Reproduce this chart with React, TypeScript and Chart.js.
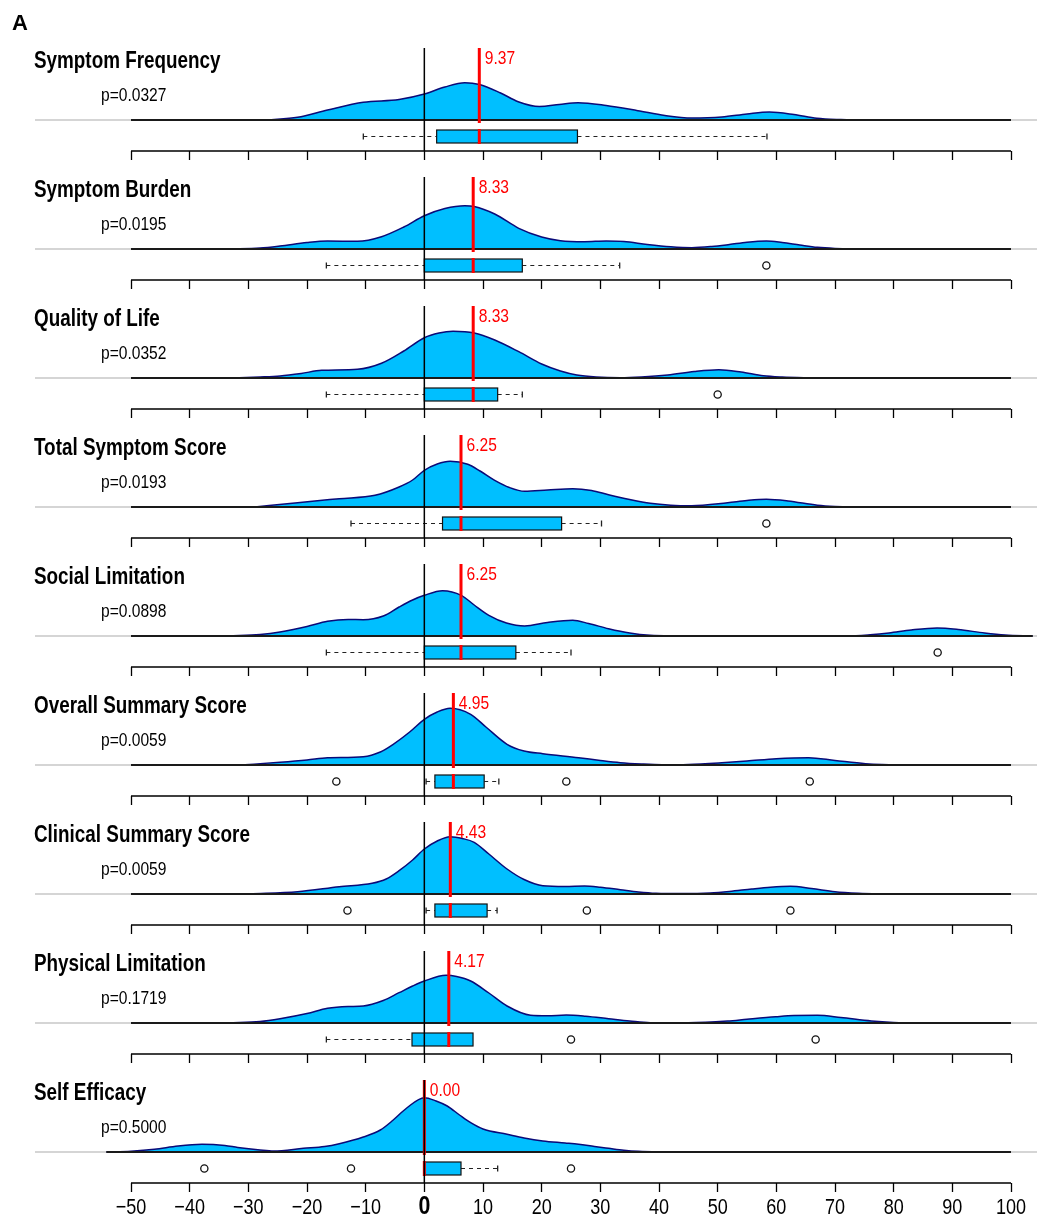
import React, { useEffect, useRef } from 'react';
import { Chart, registerables } from 'chart.js';

Chart.register(...registerables);

// ---------------- DATA ----------------
const panelTitles = [
  'Symptom Frequency',
  'Symptom Burden',
  'Quality of Life',
  'Total Symptom Score',
  'Social Limitation',
  'Overall Summary Score',
  'Clinical Summary Score',
  'Physical Limitation',
  'Self Efficacy',
];
const pValues = ['p=0.0327', 'p=0.0195', 'p=0.0352', 'p=0.0193', 'p=0.0898', 'p=0.0059', 'p=0.0059', 'p=0.1719', 'p=0.5000'];
const medians = [9.37, 8.33, 8.33, 6.25, 6.25, 4.95, 4.43, 4.17, 0.0];
const q1Values = [2.1, 0, 0, 3.1, 0, 1.8, 1.8, -2.1, 0];
const q3Values = [26.1, 16.7, 12.5, 23.4, 15.6, 10.2, 10.7, 8.3, 6.25];
const whiskerLow = [-10.4, -16.7, -16.7, -12.5, -16.7, 0.3, 0.3, -16.7, 0];
const whiskerHigh = [58.4, 33.3, 16.7, 30.2, 25.0, 12.7, 12.4, 8.3, 12.5];
const outlierValues = [[], [58.3], [50.0], [58.3], [87.5], [-15.0, 24.2, 65.7], [-13.1, 27.7, 62.4], [25.0, 66.7], [-37.5, -12.5, 25.0]];
const tickValues = [-50, -40, -30, -20, -10, 0, 10, 20, 30, 40, 50, 60, 70, 80, 90, 100];

// density curves (x = change score, d = relative density height)
const densX_SymptomFrequency = [-26.8, -21.6, -16.5, -10.4, -4.3, 0, 3.5, 6.9, 9.4, 13, 16, 19.6, 23, 26.2, 31, 36.4, 41, 45.6, 50.7, 55, 58.8, 63, 66.9, 71, 74.6];
const densD_SymptomFrequency = [0, 2.7, 10, 17.7, 20.5, 26, 33, 37.3, 35.5, 27, 18.3, 13.5, 15.5, 17.3, 14.5, 9.3, 4.5, 2, 3, 6, 8, 5.5, 1.7, 0.4, 0];
const densX_SymptomBurden = [-33.3, -28, -24.6, -20, -16.5, -11.4, -7.3, -3.5, 0, 3.5, 6.9, 8.5, 12, 16.1, 20, 23.2, 27.3, 31, 34, 38, 42, 45.6, 49, 52, 55, 58.3, 61, 64, 67, 70, 74.6];
const densD_SymptomBurden = [0, 1, 3, 6.5, 8, 7.7, 12.3, 22, 33.3, 40.5, 43.3, 42.5, 35, 20.7, 12, 8.3, 7.3, 8, 7.5, 4.5, 2.2, 1.3, 2.5, 4.5, 6.8, 8, 6.5, 4, 1.7, 0.6, 0];
const densX_QualityOfLife = [-33.3, -28, -24.6, -21, -17.5, -11.4, -7.3, -3.5, 0, 2.5, 4.9, 8.5, 12, 16.1, 20, 23.2, 26, 29.3, 33.4, 37, 41.5, 46, 50.2, 54, 57.8, 61, 66.5];
const densD_QualityOfLife = [0, 1, 2, 4.5, 7.7, 8.7, 14.7, 27, 40.3, 45, 46.7, 45, 38, 26.3, 14, 7, 3, 1, 0.3, 1, 3, 6.5, 8.3, 6, 2.3, 1, 0];
const densX_TotalSymptomScore = [-28.9, -21.6, -14.5, -8.4, -4.3, -2, 0, 2.2, 4.4, 7.4, 9.5, 12, 14.5, 17.1, 21, 25.3, 28.5, 31.4, 35, 38.5, 42, 45.6, 51.7, 55, 58.3, 62, 67, 70, 74.6];
const densD_TotalSymptomScore = [0, 4.3, 8.3, 11.7, 20, 27, 36.7, 43, 45.7, 42.7, 36, 26.7, 19.5, 15.7, 17, 18.3, 16.5, 12.3, 7.5, 3.7, 1.8, 1.3, 4.3, 6.5, 7.7, 6, 1.7, 0.5, 0];
const densX_SocialLimitation = [-33.3, -28, -24.6, -20, -16.5, -13, -10.4, -7, -4.3, -2, 0, 3.1, 6.3, 8.5, 11, 14, 17.1, 21, 25.3, 28, 31.4, 35, 38.5, 43, 46.6, 72.1, 76, 79.2, 83, 87.4, 91, 95.5, 99, 103.7];
const densD_SocialLimitation = [0, 1.5, 4, 9.5, 14.7, 16.5, 16.3, 20, 29, 36, 40.7, 45.3, 40.7, 31, 20.7, 13, 10, 13.5, 15.7, 12.5, 7.3, 3, 0.7, 0.1, 0, 0, 1.2, 3, 6, 8, 6.5, 3, 1, 0];
const densX_OverallSummary = [-31.3, -24.6, -20, -16.5, -10.4, -7.5, -5.3, -2.5, 0, 2.2, 4.4, 7.9, 10.5, 14.1, 17, 20.2, 26.3, 30, 33.4, 37, 40.5, 45, 50.7, 55, 60, 65.5, 70, 75.2, 78, 82.3];
const densD_OverallSummary = [0, 2.7, 5, 7.3, 8.3, 13, 20.7, 33, 45.7, 53, 56.7, 50.7, 38, 20.7, 14, 11.3, 7.3, 4.5, 2.3, 1, 0.3, 0.6, 2.3, 4, 6.3, 7.3, 4.5, 1.3, 0.4, 0];
const densX_ClinicalSummary = [-29.7, -21.6, -14.5, -8.9, -6.5, -4.3, -2, 0, 2.2, 4.4, 6.5, 8.5, 11, 14.1, 17, 20.2, 24, 27.3, 30, 33.4, 36.5, 39.5, 44, 48.7, 52, 55.8, 59, 62.4, 66, 70, 74, 79.2];
const densD_ClinicalSummary = [0, 2.3, 7.3, 10.7, 15, 23.3, 34, 45, 53, 57.3, 55.5, 51.7, 40, 25, 14.5, 8.3, 7.5, 8, 6.8, 4.3, 2, 0.7, 0.4, 1, 2.5, 5, 6.8, 7.7, 5.5, 2.3, 0.8, 0];
const densX_PhysicalLimitation = [-33.3, -28, -24.6, -20, -16.5, -13, -10.4, -7, -4.3, -2, 0, 3.7, 5.5, 7.9, 11, 14.1, 18.1, 21, 24.2, 27.5, 31.4, 35, 38.5, 45, 51.7, 55, 59.9, 63, 67, 71, 76.2, 80, 83.3];
const densD_PhysicalLimitation = [0, 1.5, 4.3, 9.5, 14.7, 16.5, 17, 22.5, 30.3, 37, 42, 47.7, 46.5, 42, 30, 17, 7.7, 7.2, 8, 6.8, 4.3, 2, 0.3, 0.3, 2, 3.8, 6.3, 7.5, 7.7, 5.5, 2, 0.5, 0];
const densX_SelfEfficacy = [-54.2, -50, -46, -42, -37.9, -34, -31.8, -28, -25.7, -20.6, -17, -14.5, -10.4, -7.5, -5.3, -3, 0, 2, 3.9, 6, 7.9, 10, 14.1, 17, 20.2, 24, 26.3, 29, 31.4, 34, 36.5, 41.5];
const densD_SelfEfficacy = [0, 0.8, 2.7, 6, 7.7, 6.5, 4.5, 2, 1, 3.7, 5.5, 8.3, 15, 22, 32, 44, 54.3, 51, 46, 37, 29.3, 23, 17.7, 14, 11, 9, 7.7, 5.5, 3.7, 1.8, 0.7, 0];

const densityXs = [densX_SymptomFrequency, densX_SymptomBurden, densX_QualityOfLife, densX_TotalSymptomScore, densX_SocialLimitation, densX_OverallSummary, densX_ClinicalSummary, densX_PhysicalLimitation, densX_SelfEfficacy];
const densityDs = [densD_SymptomFrequency, densD_SymptomBurden, densD_QualityOfLife, densD_TotalSymptomScore, densD_SocialLimitation, densD_OverallSummary, densD_ClinicalSummary, densD_PhysicalLimitation, densD_SelfEfficacy];

// ---------------- LAYOUT / STYLE ----------------
const W = 1037;
const H = 1218;
const PXU = 880 / 150; // px per x unit
const X_MIN = -50 - 131 / PXU;
const X_MAX = 100 + 26 / PXU;
const PANEL = 129; // px per panel (y unit)
const BOTTOM_AXIS = 1183;
const Y_MAX = BOTTOM_AXIS / PANEL;
const Y_MIN = -(H - BOTTOM_AXIS) / PANEL;
const u = (px: number) => px / PANEL;
const DENS_SCALE = 1 / PANEL;
const GRAY_LEFT = X_MIN + 35 / PXU;

const SANS = '"Liberation Sans", Arial, Helvetica, sans-serif';
const NARROW_SCALE = 0.82;
const FILL = '#00BFFF';
const OUTLINE = '#0a0a78';

const nP = panelTitles.length;
const axisVal = (i: number) => nP - 1 - i;
const baseVal = (i: number) => axisVal(i) + u(31);

function segments(list: number[][]) {
  const pts: any[] = [];
  list.forEach(([x1, y1, x2, y2], i) => {
    if (i) pts.push({ x: x1, y: null });
    pts.push({ x: x1, y: y1 }, { x: x2, y: y2 });
  });
  return pts;
}

const lineDs = (data: any[], color: string, width: number, order: number) => ({
  type: 'line',
  data,
  borderColor: color,
  borderWidth: width,
  pointRadius: 0,
  fill: false,
  spanGaps: false,
  tension: 0,
  borderCapStyle: 'butt',
  order,
  clip: false,
});

function buildDatasets() {
  const ds: any[] = [];
  ds.push(lineDs(segments(panelTitles.map((_, i) => [GRAY_LEFT, baseVal(i), X_MAX, baseVal(i)])), '#c8c8c8', 1.5, 100));
  panelTitles.forEach((_, i) => {
    const b = baseVal(i);
    ds.push({
      type: 'line',
      data: densityXs[i].map((x, j) => ({ x, y: b + densityDs[i][j] * DENS_SCALE })),
      borderColor: OUTLINE,
      borderWidth: 1.5,
      backgroundColor: FILL,
      fill: { value: b },
      pointRadius: 0,
      cubicInterpolationMode: 'monotone',
      order: 90,
      clip: false,
    });
  });
  ds.push(lineDs(segments(panelTitles.map((_, i) => {
    const xs = densityXs[i];
    return [Math.min(-50, xs[0]), baseVal(i), Math.max(100, xs[xs.length - 1]), baseVal(i)];
  })), '#1a1a1a', 2, 80));
  ds.push(lineDs(segments(panelTitles.map((_, i) => [-50, axisVal(i), 100, axisVal(i)])), '#000', 1.3, 80));
  ds.push(lineDs(segments(panelTitles.map((_, i) => [medians[i], axisVal(i) + u(28), medians[i], axisVal(i) + u(103)])), '#ff0000', 3, 30));
  ds.push(lineDs(segments(panelTitles.map((_, i) => [medians[i], axisVal(i) + u(7), medians[i], axisVal(i) + u(22)])), '#ff0000', 3, 30));
  ds.push(lineDs(segments(panelTitles.map((_, i) => [0, axisVal(i), 0, axisVal(i) + u(103)])), '#000', 1.5, 10));
  return ds;
}

function narrowText(ctx: any, text: string, x: number, y: number, font: string, color: string, align: string = 'left') {
  ctx.save();
  ctx.translate(x, y);
  ctx.scale(NARROW_SCALE, 1);
  ctx.font = font;
  ctx.fillStyle = color;
  ctx.textAlign = align;
  ctx.textBaseline = 'alphabetic';
  ctx.fillText(text, 0, 0);
  ctx.restore();
}

const decorPlugin = {
  id: 'decor',
  beforeDatasetsDraw(chart: any) {
    const { ctx } = chart;
    const xs = chart.scales.x;
    const ys = chart.scales.y;
    const px = (v: number) => xs.getPixelForValue(v);
    panelTitles.forEach((_, i) => {
      const k = axisVal(i);
      const yTop = ys.getPixelForValue(k + u(21));
      const yBot = ys.getPixelForValue(k + u(8));
      const yMid = (yTop + yBot) / 2;
      ctx.save();
      ctx.strokeStyle = '#222';
      ctx.lineWidth = 1.1;
      ctx.setLineDash([4, 4]);
      ctx.beginPath();
      if (whiskerLow[i] < q1Values[i]) {
        ctx.moveTo(px(whiskerLow[i]), yMid);
        ctx.lineTo(px(q1Values[i]), yMid);
      }
      if (whiskerHigh[i] > q3Values[i]) {
        ctx.moveTo(px(q3Values[i]), yMid);
        ctx.lineTo(px(whiskerHigh[i]), yMid);
      }
      ctx.stroke();
      ctx.setLineDash([]);
      ctx.lineWidth = 1.3;
      ctx.beginPath();
      if (whiskerLow[i] < q1Values[i]) {
        ctx.moveTo(px(whiskerLow[i]), yMid - 3);
        ctx.lineTo(px(whiskerLow[i]), yMid + 3);
      }
      if (whiskerHigh[i] > q3Values[i]) {
        ctx.moveTo(px(whiskerHigh[i]), yMid - 3);
        ctx.lineTo(px(whiskerHigh[i]), yMid + 3);
      }
      ctx.stroke();
      ctx.fillStyle = FILL;
      ctx.strokeStyle = '#111';
      ctx.lineWidth = 1.2;
      const x1 = px(q1Values[i]);
      const x2 = px(q3Values[i]);
      ctx.fillRect(x1, yTop, x2 - x1, yBot - yTop);
      ctx.strokeRect(x1, yTop, x2 - x1, yBot - yTop);
      ctx.fillStyle = '#fff';
      ctx.lineWidth = 1.3;
      outlierValues[i].forEach((v) => {
        ctx.beginPath();
        ctx.arc(px(v), yMid, 3.6, 0, Math.PI * 2);
        ctx.fill();
        ctx.stroke();
      });
      ctx.restore();
    });
  },
  afterDraw(chart: any) {
    const { ctx } = chart;
    const xs = chart.scales.x;
    const ys = chart.scales.y;
    ctx.save();
    ctx.textAlign = 'left';
    ctx.textBaseline = 'alphabetic';
    ctx.fillStyle = '#000';
    ctx.font = `bold 22px ${SANS}`;
    ctx.fillText('A', 12, 30);
    ctx.restore();
    panelTitles.forEach((title, i) => {
      const A = ys.getPixelForValue(axisVal(i));
      narrowText(ctx, title, 34, A - 83, `bold 23px ${SANS}`, '#000');
      narrowText(ctx, pValues[i], 101, A - 50.5, `19px ${SANS}`, '#000');
      narrowText(ctx, medians[i].toFixed(2), xs.getPixelForValue(medians[i]) + 5.5, A - 87, `19px ${SANS}`, '#ff0000');
    });
    // bottom tick labels, placed by the x scale
    const yLab = ys.getPixelForValue(0) + 31;
    xs.ticks.forEach((t: any) => {
      const v = t.value;
      const label = v < 0 ? '\u2212' + Math.abs(v) : String(v);
      const font = v === 0 ? `bold 26px ${SANS}` : `22px ${SANS}`;
      narrowText(ctx, label, xs.getPixelForValue(v), yLab, font, '#000', 'center');
    });
  },
};

function xAxis(i: number) {
  return {
    type: 'linear',
    min: X_MIN,
    max: X_MAX,
    position: { y: axisVal(i) },
    afterBuildTicks: (scale: any) => {
      scale.ticks = tickValues.map((v) => ({ value: v }));
    },
    border: { display: false },
    grid: {
      display: true,
      drawOnChartArea: false,
      drawTicks: true,
      tickLength: 9,
      tickWidth: 1.3,
      tickColor: '#000',
    },
    ticks: { display: false, autoSkip: false, maxRotation: 0, minRotation: 0 },
  };
}

export default function App() {
  const ref = useRef<HTMLCanvasElement>(null);
  useEffect(() => {
    document.body.style.margin = '0';
    document.body.style.overflow = 'hidden';
    const scales: any = {
      x: xAxis(nP - 1),
      y: { type: 'linear', min: Y_MIN, max: Y_MAX, display: false },
    };
    for (let i = 0; i < nP - 1; i++) scales['xa' + i] = xAxis(i);
    const chart = new Chart(ref.current as HTMLCanvasElement, {
      type: 'line',
      data: { datasets: buildDatasets() },
      options: {
        animation: false,
        responsive: false,
        devicePixelRatio: 1,
        events: [],
        layout: { padding: 0 },
        plugins: { legend: { display: false }, tooltip: { enabled: false } },
        scales,
      } as any,
      plugins: [decorPlugin],
    } as any);
    return () => chart.destroy();
  }, []);
  return <canvas ref={ref} width={W} height={H} style={{ display: 'block', width: W, height: H }} />;
}
